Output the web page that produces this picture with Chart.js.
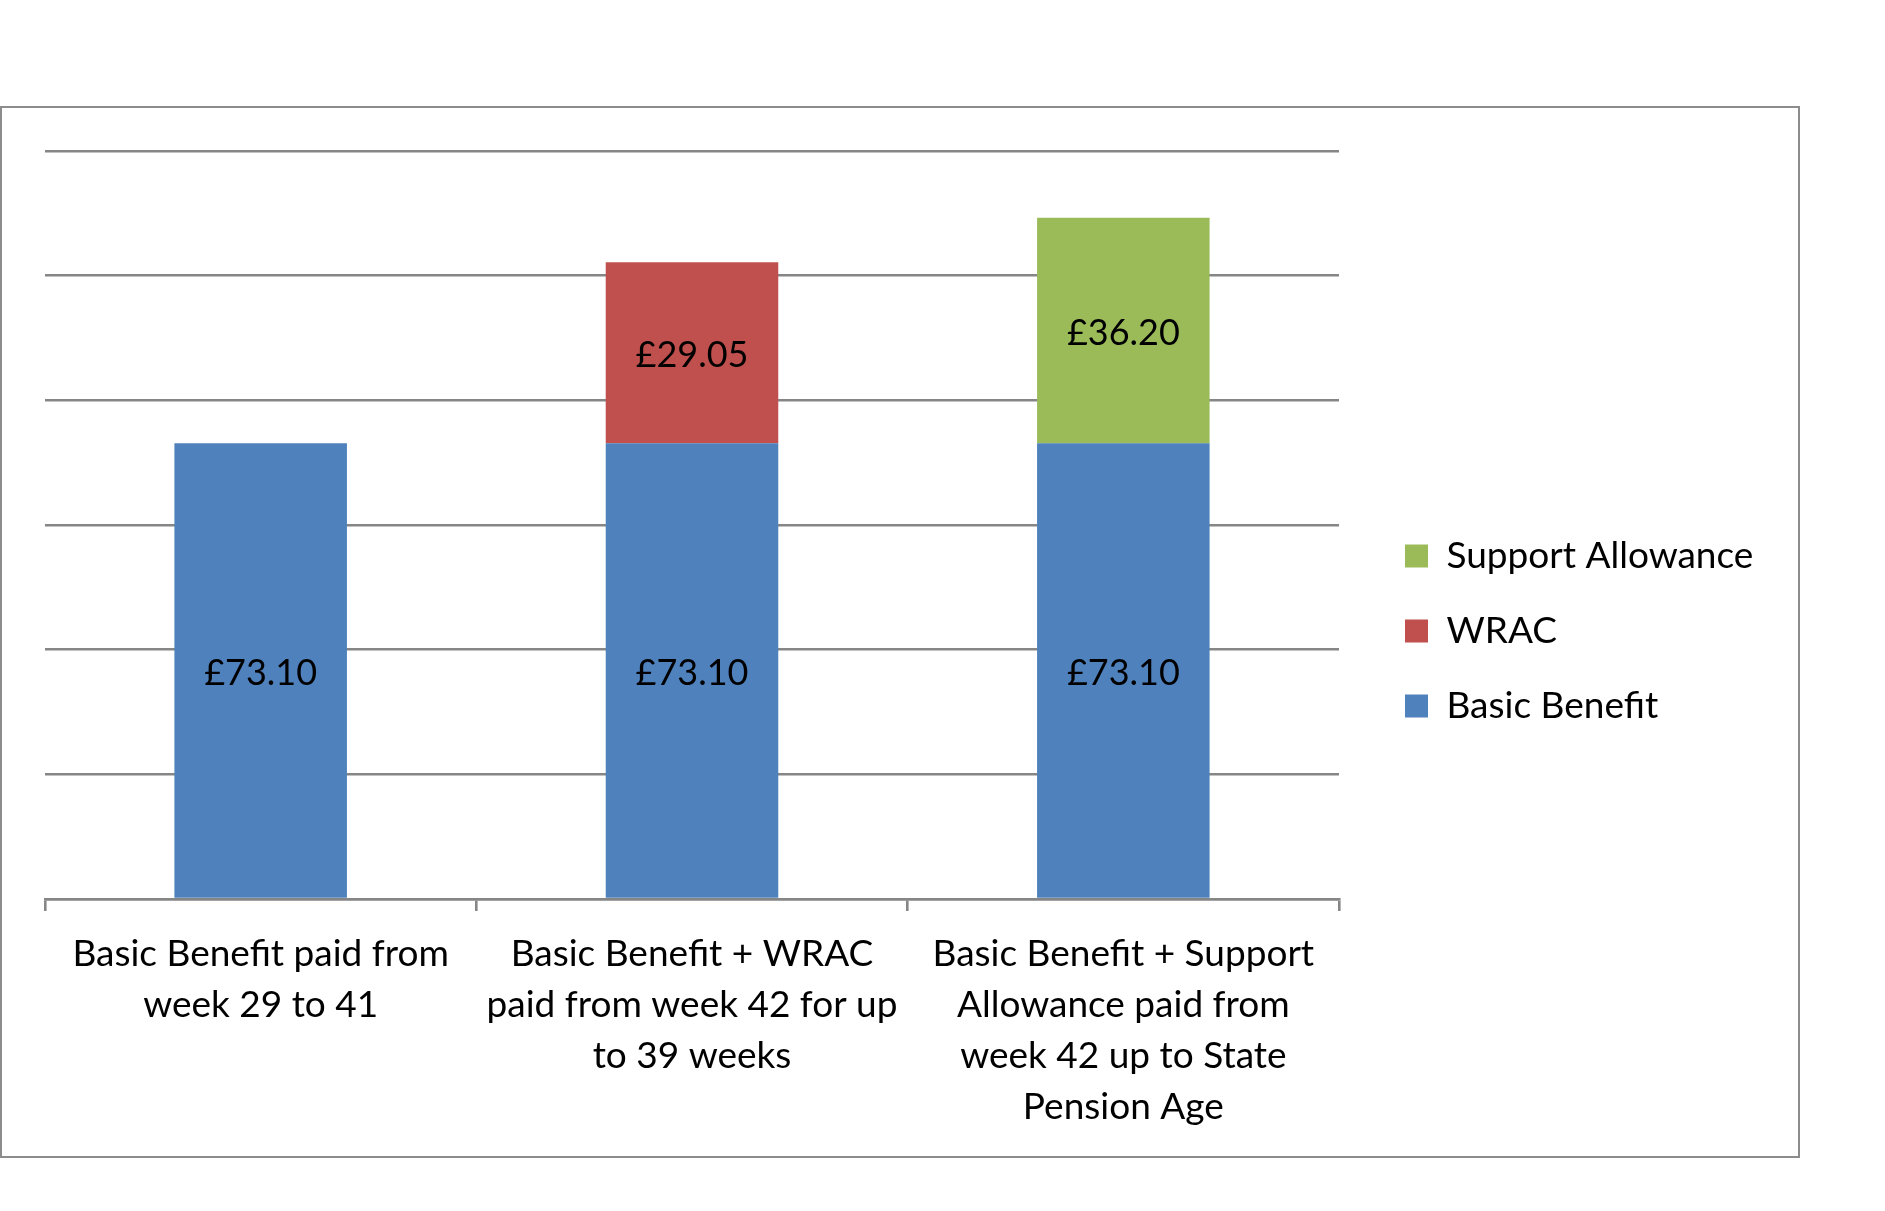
<!DOCTYPE html>
<html>
<head>
<meta charset="utf-8">
<script src="https://cdn.jsdelivr.net/npm/chart.js@4"></script>
<style>
  body { margin: 0; background: #fff; }
  #frame {
    position: absolute;
    left: 0;
    top: 106px;
    width: 1796px;
    height: 1048px;
    border: 2px solid #8c8c8c;
  }
  #grafico { position: absolute; left: 0; top: 0; }
</style>
</head>
<body>
<div id="frame"></div>
<canvas id="grafico" width="1885" height="1211"></canvas>
<script>
// Dados do gráfico
const categorias = [
  ["Basic Benefit paid from", "week 29 to 41"],
  ["Basic Benefit + WRAC", "paid from week 42 for up", "to 39 weeks"],
  ["Basic Benefit + Support", "Allowance paid from", "week 42 up to State", "Pension Age"],
];
const basicBenefit = [73.1, 73.1, 73.1];
const wrac = [null, 29.05, null];
const supportAllowance = [null, null, 36.2];
const yMax = 120;
const yStep = 20;

const CORES = {
  blue: "#4f81bd",
  red: "#c0504d",
  green: "#9bbb59",
  grid: "#868686",
};

const FONTE = "Lato";
const TAM_ROTULO = 36; // valores dentro das barras
const TAM_TEXTO = 37; // eixo x e legenda

// Escreve o valor no meio de cada pedaço da barra
const rotulosValores = {
  id: "rotulosValores",
  afterDatasetsDraw(chart) {
    const { ctx } = chart;
    ctx.save();
    ctx.font = `${TAM_ROTULO}px ${FONTE}`;
    ctx.fillStyle = "#000";
    ctx.textAlign = "center";
    ctx.textBaseline = "middle";
    chart.data.datasets.forEach((ds, i) => {
      chart.getDatasetMeta(i).data.forEach((bar, j) => {
        const v = ds.data[j];
        if (v == null) return;
        ctx.fillText("£" + v.toFixed(2), bar.x, (bar.y + bar.base) / 2 + 3);
      });
    });
    ctx.restore();
  },
};

const desenha = () => {
  const canvas = document.getElementById("grafico");
  const ctx = canvas.getContext("2d");

  // largura da legenda, para que ela comece logo depois do eixo
  const nomes = ["Support Allowance", "WRAC", "Basic Benefit"];
  const padLegenda = 75 - TAM_TEXTO;
  ctx.font = `${TAM_TEXTO}px ${FONTE}`;
  const textoMax = Math.max(...nomes.map((t) => ctx.measureText(t).width));
  const larguraLegenda = padLegenda + 23 + TAM_TEXTO / 2 + textoMax + 10;
  const padDireita = Math.max(0, 1885 - (1405 - padLegenda) - larguraLegenda);

  return new Chart(ctx, {
    type: "bar",
    data: {
      labels: categorias,
      datasets: [
        { label: "Basic Benefit", data: basicBenefit, backgroundColor: CORES.blue },
        { label: "WRAC", data: wrac, backgroundColor: CORES.red },
        { label: "Support Allowance", data: supportAllowance, backgroundColor: CORES.green },
      ],
    },
    options: {
      responsive: false,
      animation: false,
      barPercentage: 0.4,
      categoryPercentage: 1,
      layout: { padding: { left: 45, top: 106, bottom: 55, right: padDireita } },
      font: { family: FONTE, size: TAM_TEXTO },
      color: "#000",
      plugins: {
        tooltip: { enabled: false },
        // título vazio só para abrir espaço acima da área do gráfico
        title: {
          display: true,
          text: "",
          fullSize: false,
          padding: { top: 44, bottom: 0 },
          font: { size: 1, lineHeight: 1 },
        },
        legend: {
          position: "right",
          reverse: true,
          labels: {
            boxWidth: 23,
            boxHeight: 23,
            padding: padLegenda,
            color: "#000",
            font: { family: FONTE, size: TAM_TEXTO },
          },
        },
      },
      scales: {
        x: {
          stacked: true,
          afterFit: (s) => { s.height = 257; },
          grid: {
            drawOnChartArea: false,
            drawTicks: true,
            tickLength: 12,
            color: CORES.grid,
            lineWidth: 2.6,
          },
          border: { color: CORES.grid, width: 2.6 },
          ticks: {
            color: "#000",
            padding: 18,
            maxRotation: 0,
            autoSkip: false,
            font: { family: FONTE, size: TAM_TEXTO, lineHeight: 51 / TAM_TEXTO },
          },
        },
        y: {
          stacked: true,
          position: "right", // eixo invisível, só afasta a legenda
          min: 0,
          max: yMax,
          afterFit: (s) => { s.width = 28; },
          ticks: { display: false, stepSize: yStep },
          grid: { color: CORES.grid, lineWidth: 2.6, drawTicks: false },
          border: { display: false },
        },
      },
    },
    plugins: [rotulosValores],
  });
};

document.fonts.load(`${TAM_TEXTO}px ${FONTE}`).then(desenha, desenha);
</script>
</body>
</html>
